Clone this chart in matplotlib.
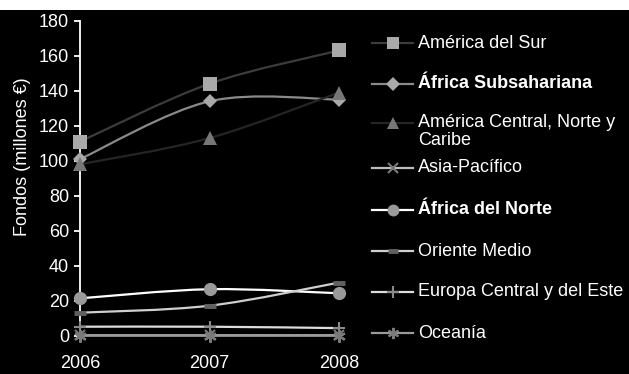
import numpy as np
import matplotlib
matplotlib.use("Agg")
import matplotlib.pyplot as plt
from matplotlib.path import Path
from matplotlib.patches import PathPatch, Rectangle
from matplotlib.lines import Line2D

plt.rcParams['font.family'] = ['Liberation Sans', 'DejaVu Sans']

years = [2006, 2007, 2008]
series_names = ["América del Sur", "África Subsahariana", "América Central, Norte y\nCaribe",
                "Asia-Pacífico", "África del Norte", "Oriente Medio",
                "Europa Central y del Este", "Oceanía"]
america_sur = [111, 144, 163]
africa_subsahariana = [101, 134, 135]
america_central = [98, 113, 139]
asia_pacifico = [0.4, 0.4, 0.4]
africa_norte = [21.5, 26.7, 24.4]
oriente_medio = [13.3, 17.3, 30.5]
europa_central = [5.3, 5.3, 4.5]
oceania = [0.2, 0.2, 0.2]
values = [america_sur, africa_subsahariana, america_central, asia_pacifico,
          africa_norte, oriente_medio, europa_central, oceania]

# style per series: line colour, marker, marker colour, marker size, edge width
styles = [
    ("#3c3c3c", "s", "#a9a9a9", 9.5, 0),
    ("#8a8a8a", "D", "#a9a9a9", 7.5, 0),
    ("#252525", "^", "#777777", 9.5, 0),
    ("#bdbdbd", "x", "#7a7a7a", 7.5, 1.5),
    ("#ffffff", "o", "#9a9a9a", 9.5, 0),
    ("#cfcfcf", "_", "#606060", 8.5, 3.5),
    ("#dcdcdc", "+", "#8a8a8a", 9, 1.5),
    ("#9a9a9a", (6, 2, 0), "#7a7a7a", 9, 1.5),
]
bold = [False, True, False, False, True, False, False, False]


def smooth_path(xs, ys):
    # Excel-style smoothed line: cubic Bezier through the points (Catmull-Rom)
    pts = np.column_stack([xs, ys]).astype(float)
    ext = np.vstack([pts[0], pts, pts[-1]])
    verts = [pts[0]]
    codes = [Path.MOVETO]
    for i in range(len(pts) - 1):
        p0, p1, p2, p3 = ext[i], ext[i + 1], ext[i + 2], ext[i + 3]
        verts += [p1 + (p2 - p0) / 6, p2 - (p3 - p1) / 6, p2]
        codes += [Path.CURVE4] * 3
    return Path(verts, codes)


fig = plt.figure(figsize=(6.29, 3.74), dpi=100, facecolor="black")
# white strip along the top edge
fig.add_artist(Rectangle((0, 1 - 10 / 374), 1, 10 / 374, transform=fig.transFigure,
                         facecolor="white", edgecolor="none"))

ax = fig.add_axes([80 / 629, 38 / 374, 259 / 629, 315.3 / 374])
ax.set_facecolor("none")
ax.set_xlim(2006, 2008)
ax.set_ylim(0, 180)

for vals, (lc, mk, mc, ms, mew) in zip(values, styles):
    ax.add_patch(PathPatch(smooth_path(years, vals), facecolor="none",
                           edgecolor=lc, lw=1.6, clip_on=False, zorder=2))
    ax.plot(years, vals, linestyle="none", marker=mk, markersize=ms,
            markerfacecolor=mc, markeredgecolor=mc, markeredgewidth=mew,
            clip_on=False, zorder=3)

for s in ["top", "right", "bottom"]:
    ax.spines[s].set_visible(False)
ax.spines["left"].set_color("white")
ax.spines["left"].set_linewidth(1.3)
ax.set_yticks(range(0, 181, 20))
ax.set_xticks(years)
ax.tick_params(axis="y", colors="white", labelsize=13, length=4, width=1.3, pad=4)
ax.tick_params(axis="x", colors="white", labelsize=13, length=0, pad=14)
ax.set_ylabel("Fondos (millones €)", color="white", fontsize=13)
ax.yaxis.set_label_coords(-0.19, 0.568)

# legend drawn entry by entry to follow the original spacing
legend_y = [43, 84, 123, 168, 210, 251, 292, 333]
for name, (lc, mk, mc, ms, mew), b, y in zip(series_names, styles, bold, legend_y):
    yf = 1 - y / 374
    fig.add_artist(Line2D([372 / 629, 413 / 629], [yf, yf], color=lc, lw=1.6,
                          transform=fig.transFigure))
    fig.add_artist(Line2D([392.5 / 629], [yf], linestyle="none", marker=mk,
                          markersize=ms * 0.9, markerfacecolor=mc, markeredgecolor=mc,
                          markeredgewidth=mew, transform=fig.transFigure))
    if "\n" in name:
        fig.text(418 / 629, 1 - (y - 9) / 374, name, color="white", fontsize=13,
                 va="top", ha="left", linespacing=1.05)
    else:
        fig.text(418 / 629, yf, name, color="white", fontsize=13,
                 fontweight="bold" if b else "normal", va="center", ha="left")

fig.savefig("out.png", dpi=100, facecolor=fig.get_facecolor())
